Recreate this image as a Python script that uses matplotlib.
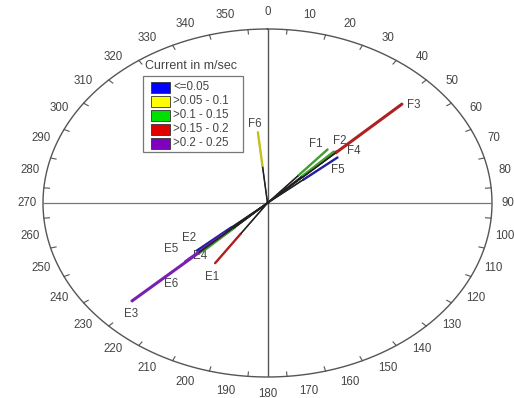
import numpy as np
import matplotlib
matplotlib.use("Agg")
from matplotlib import pyplot as plt
from matplotlib.patches import Rectangle

# station vectors: direction (deg from north) and relative length (1 = outer ring)
names = ["F1", "F2", "F3", "F4", "F5", "F6", "E1", "E2", "E3", "E4", "E5", "E6"]
angles = [41, 46, 46.5, 45, 50, 354, 214, 229, 227, 226, 226.5, 227.5]
lengths = [0.41, 0.43, 0.83, 0.42, 0.41, 0.41, 0.42, 0.42, 0.83, 0.40, 0.42, 0.50]
classes = [2, 3, 3, 2, 0, 1, 3, 0, 4, 2, 2, 4]

class_labels = ["<=0.05", ">0.05 - 0.1", ">0.1 - 0.15", ">0.15 - 0.2", ">0.2 - 0.25"]
class_colors = ["#0000ff", "#ffff00", "#00e000", "#e00000", "#8000c0"]
line_colors = ["#2020a0", "#c8c020", "#40a030", "#b02020", "#7a20b0"]

# label offsets in points (dx, dy)
label_off = {"F1": (-9, 4), "F2": (2, 7), "F3": (8, -1), "F4": (14, 0), "F5": (0, -9),
             "F6": (-2, 6), "E1": (-2, -10), "E2": (-5, 9), "E3": (0, -9),
             "E4": (-2, -3), "E5": (-20, 3), "E6": (-10, -16)}

W, H = 514, 398
fs = 8.3
fig = plt.figure(figsize=(W / 100, H / 100), dpi=100)
cx, cy, ax_r, ay_r = 267.5, 203, 224.5, 174
ax = fig.add_axes([(cx - ax_r) / W, (H - cy - ay_r) / H, 2 * ax_r / W, 2 * ay_r / H])
ax.set_xlim(-1, 1)
ax.set_ylim(-1, 1)
ax.axis("off")

ring = "#555555"
t = np.linspace(0, 2 * np.pi, 400)
ax.plot(np.sin(t), np.cos(t), color=ring, lw=1.0, clip_on=False)
ax.plot([-1, 1], [0, 0], color="#777777", lw=0.9)
ax.plot([0, 0], [-1, 1], color="#555555", lw=1.0)

for d in range(5, 360, 10):
    a = np.radians(d)
    ax.plot([0.975 * np.sin(a), np.sin(a)], [0.975 * np.cos(a), np.cos(a)], color=ring, lw=0.8)

for d in range(0, 360, 10):
    a = np.radians(d)
    ax.text(1.072 * np.sin(a), 1.095 * np.cos(a), str(d), ha="center", va="center",
            fontsize=fs, color="#444444", family="Liberation Sans", clip_on=False)

for n, ang, L, c in zip(names, angles, lengths, classes):
    a = np.radians(ang)
    x, y = L * np.sin(a), L * np.cos(a)
    lw = 2.2 if L > 0.6 else 1.7
    ax.plot([0, x], [0, y], color="#333333", lw=0.8, zorder=3)
    ax.plot([0.5 * x, x], [0.5 * y, y], color=line_colors[c], lw=lw, zorder=4,
            solid_capstyle="butt")
    ax.plot([0, 0.5 * x], [0, 0.5 * y], color="#222222", lw=1.1, zorder=5)
    dx, dy = label_off[n]
    ax.annotate(n, (x, y), xytext=(dx, dy), textcoords="offset points", ha="center",
                va="center", fontsize=fs, color="#444444", family="Liberation Sans")

# legend drawn in figure pixels
fig.text(145 / W, 1 - 66 / H, "Current in m/sec", fontsize=9, color="#444444",
         family="Liberation Sans", va="center")
fig.patches.append(Rectangle((143 / W, 1 - 152 / H), 100 / W, 76 / H, transform=fig.transFigure,
                             fill=False, ec="#777777", lw=0.9))
for i, (lab, col) in enumerate(zip(class_labels, class_colors)):
    yy = 87 + i * 14
    fig.patches.append(Rectangle((151 / W, 1 - (yy + 5.5) / H), 19 / W, 11 / H,
                                 transform=fig.transFigure, fc=col, ec="#333333", lw=0.6))
    fig.text(173 / W, 1 - yy / H, lab, fontsize=fs, color="#444444",
             family="Liberation Sans", va="center")

fig.savefig("out.png", dpi=100)
